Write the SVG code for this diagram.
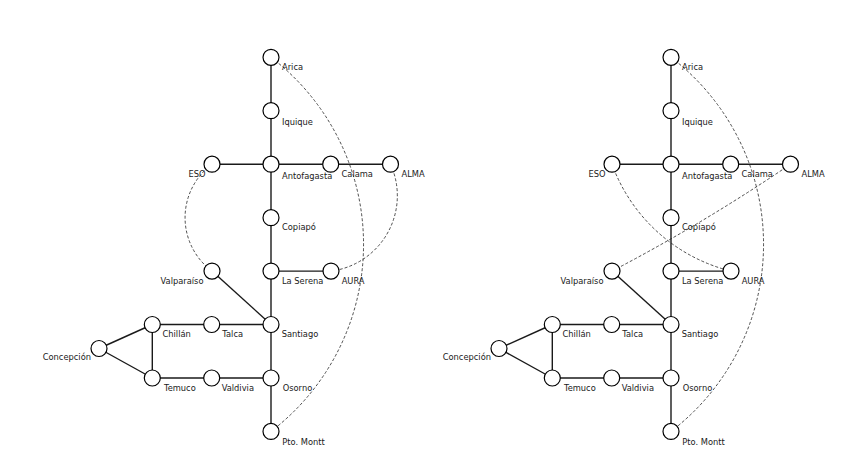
<svg xmlns="http://www.w3.org/2000/svg" width="848" height="466" viewBox="0 0 848 466">
  <style>
    .bg { fill: #ffffff; }
    .edge { stroke: #1a1a1a; stroke-width: 1.4; fill: none; }
    .link { stroke: #222222; stroke-width: 0.8; stroke-dasharray: 3 2; fill: none; }
    .node circle { fill: #ffffff; stroke: #000000; stroke-width: 1.2; }
    .node text { font-family: "DejaVu Sans", "Liberation Sans", sans-serif; font-size: 8.3px; fill: #1a1a1a; }
    .w text { text-anchor: end; }
  </style>
  <rect class="bg" width="848" height="466"/>

  <!-- Network A -->
  <g id="network-a">
    <g id="a-connectors">
      <line class="edge" x1="271" y1="57.3" x2="271" y2="431.4"/>
      <line class="edge" x1="212" y1="164.2" x2="390.5" y2="164.2"/>
      <line class="edge" x1="271" y1="271.1" x2="331" y2="271.1"/>
      <line class="edge" x1="212" y1="271.1" x2="271" y2="324.5"/>
      <line class="edge" x1="152.3" y1="324.5" x2="271" y2="324.5"/>
      <line class="edge" x1="152.3" y1="378" x2="271" y2="378"/>
      <line class="edge" x1="152.3" y1="324.5" x2="152.3" y2="378"/>
      <line class="edge" x1="99" y1="348.5" x2="152.3" y2="324.5"/>
      <line class="edge" x1="99" y1="348.5" x2="152.3" y2="378"/>
      <path class="link" d="M271,57.3 A235.3,235.3 0 0 1 271,431.4"/>
      <path class="link" d="M212,164.2 A66.5,66.5 0 0 0 212,271.1"/>
      <path class="link" d="M390.5,164.2 A76,76 0 0 1 331,271.1"/>
    </g>
    <g id="a-arica" class="node"><circle cx="271" cy="57.3" r="8"/><text x="282" y="69.5">Arica</text></g>
    <g id="a-iquique" class="node"><circle cx="271" cy="110.7" r="8"/><text x="282" y="124.5">Iquique</text></g>
    <g id="a-antofagasta" class="node"><circle cx="271" cy="164.2" r="8"/><text x="282" y="178.5">Antofagasta</text></g>
    <g id="a-eso" class="node w"><circle cx="212" cy="164.2" r="8"/><text x="205.5" y="176.7">ESO</text></g>
    <g id="a-calama" class="node"><circle cx="330.7" cy="164.2" r="8"/><text x="341.5" y="176.7">Calama</text></g>
    <g id="a-alma" class="node"><circle cx="390.5" cy="164.2" r="8"/><text x="401.5" y="176.7">ALMA</text></g>
    <g id="a-copiapo" class="node"><circle cx="271" cy="217.7" r="8"/><text x="282" y="229.8">Copiapó</text></g>
    <g id="a-laserena" class="node"><circle cx="271" cy="271.1" r="8"/><text x="282" y="283.5">La Serena</text></g>
    <g id="a-aura" class="node"><circle cx="331" cy="271.1" r="8"/><text x="341.7" y="283.5">AURA</text></g>
    <g id="a-valparaiso" class="node w"><circle cx="212" cy="271.1" r="8"/><text x="203.5" y="283.5">Valparaíso</text></g>
    <g id="a-santiago" class="node"><circle cx="271" cy="324.5" r="8"/><text x="281.7" y="337">Santiago</text></g>
    <g id="a-talca" class="node"><circle cx="211.7" cy="324.5" r="8"/><text x="222.3" y="337">Talca</text></g>
    <g id="a-chillan" class="node"><circle cx="152.3" cy="324.5" r="8"/><text x="162.5" y="337">Chillán</text></g>
    <g id="a-concepcion" class="node w"><circle cx="99" cy="348.5" r="8"/><text x="91" y="359.8">Concepción</text></g>
    <g id="a-temuco" class="node"><circle cx="152.3" cy="378" r="8"/><text x="164" y="391">Temuco</text></g>
    <g id="a-valdivia" class="node"><circle cx="211.7" cy="378" r="8"/><text x="221.7" y="391">Valdivia</text></g>
    <g id="a-osorno" class="node"><circle cx="271" cy="378" r="8"/><text x="282.7" y="391">Osorno</text></g>
    <g id="a-ptomontt" class="node"><circle cx="271" cy="431.4" r="8"/><text x="282.3" y="444.5">Pto. Montt</text></g>
  </g>

  <!-- Network B -->
  <g id="network-b">
    <g id="b-connectors">
      <line class="edge" x1="671" y1="57.3" x2="671" y2="431.4"/>
      <line class="edge" x1="612" y1="164.2" x2="790.5" y2="164.2"/>
      <line class="edge" x1="671" y1="271.1" x2="731" y2="271.1"/>
      <line class="edge" x1="612" y1="271.1" x2="671" y2="324.5"/>
      <line class="edge" x1="552.3" y1="324.5" x2="671" y2="324.5"/>
      <line class="edge" x1="552.3" y1="378" x2="671" y2="378"/>
      <line class="edge" x1="552.3" y1="324.5" x2="552.3" y2="378"/>
      <line class="edge" x1="499" y1="348.5" x2="552.3" y2="324.5"/>
      <line class="edge" x1="499" y1="348.5" x2="552.3" y2="378"/>
      <path class="link" d="M671,57.3 A235.3,235.3 0 0 1 671,431.4"/>
      <path class="link" d="M612,164.2 A170,170 0 0 0 731,271.1"/>
      <path class="link" d="M790.5,164.2 A1800,1800 0 0 1 612,271.1"/>
    </g>
    <g id="b-arica" class="node"><circle cx="671" cy="57.3" r="8"/><text x="682" y="69.5">Arica</text></g>
    <g id="b-iquique" class="node"><circle cx="671" cy="110.7" r="8"/><text x="682" y="124.5">Iquique</text></g>
    <g id="b-antofagasta" class="node"><circle cx="671" cy="164.2" r="8"/><text x="682" y="178.5">Antofagasta</text></g>
    <g id="b-eso" class="node w"><circle cx="612" cy="164.2" r="8"/><text x="605.5" y="176.7">ESO</text></g>
    <g id="b-calama" class="node"><circle cx="730.7" cy="164.2" r="8"/><text x="741.5" y="176.7">Calama</text></g>
    <g id="b-alma" class="node"><circle cx="790.5" cy="164.2" r="8"/><text x="801.5" y="176.7">ALMA</text></g>
    <g id="b-copiapo" class="node"><circle cx="671" cy="217.7" r="8"/><text x="682" y="229.8">Copiapó</text></g>
    <g id="b-laserena" class="node"><circle cx="671" cy="271.1" r="8"/><text x="682" y="283.5">La Serena</text></g>
    <g id="b-aura" class="node"><circle cx="731" cy="271.1" r="8"/><text x="741.7" y="283.5">AURA</text></g>
    <g id="b-valparaiso" class="node w"><circle cx="612" cy="271.1" r="8"/><text x="603.5" y="283.5">Valparaíso</text></g>
    <g id="b-santiago" class="node"><circle cx="671" cy="324.5" r="8"/><text x="681.7" y="337">Santiago</text></g>
    <g id="b-talca" class="node"><circle cx="611.7" cy="324.5" r="8"/><text x="622.3" y="337">Talca</text></g>
    <g id="b-chillan" class="node"><circle cx="552.3" cy="324.5" r="8"/><text x="562.5" y="337">Chillán</text></g>
    <g id="b-concepcion" class="node w"><circle cx="499" cy="348.5" r="8"/><text x="491" y="359.8">Concepción</text></g>
    <g id="b-temuco" class="node"><circle cx="552.3" cy="378" r="8"/><text x="564" y="391">Temuco</text></g>
    <g id="b-valdivia" class="node"><circle cx="611.7" cy="378" r="8"/><text x="621.7" y="391">Valdivia</text></g>
    <g id="b-osorno" class="node"><circle cx="671" cy="378" r="8"/><text x="682.7" y="391">Osorno</text></g>
    <g id="b-ptomontt" class="node"><circle cx="671" cy="431.4" r="8"/><text x="682.3" y="444.5">Pto. Montt</text></g>
  </g>
</svg>
